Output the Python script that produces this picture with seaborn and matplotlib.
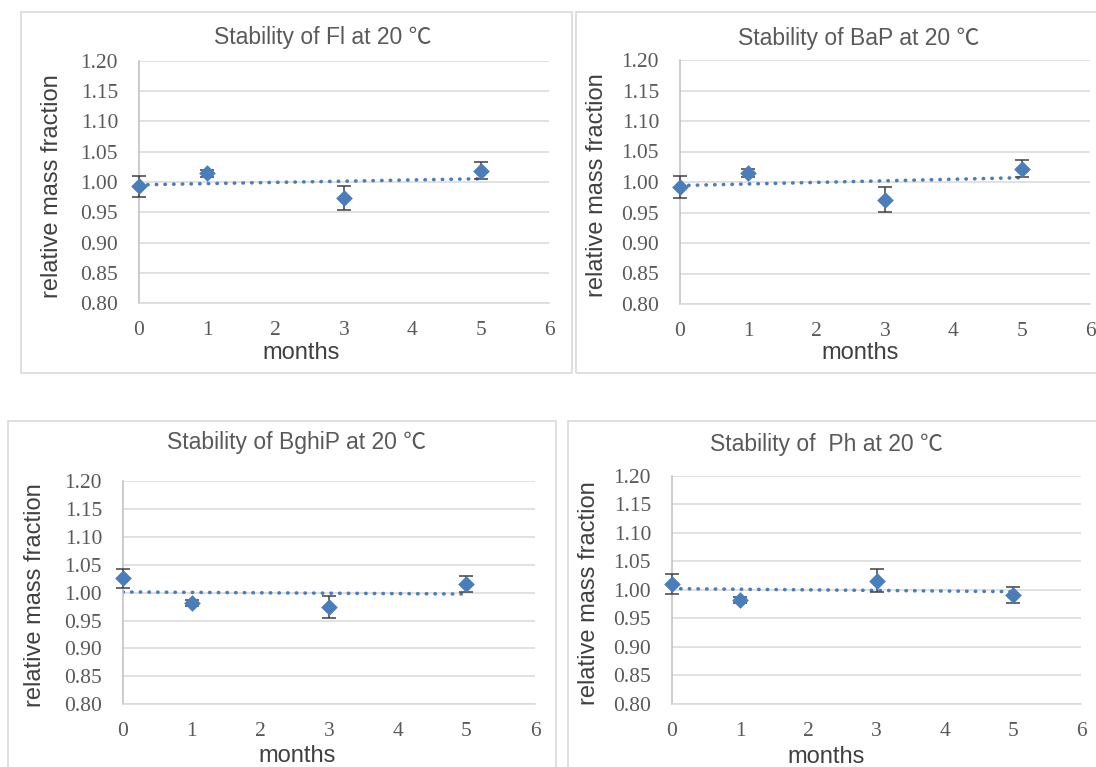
import matplotlib

matplotlib.use("Agg")
import matplotlib.pyplot as plt
import numpy as np
import seaborn as sns
from matplotlib.patches import Rectangle


MONTHS = [0, 1, 3, 5]

FL = [0.993, 1.0145, 0.973, 1.019]
FL_ERR = [0.017, 0.006, 0.020, 0.014]

BAP = [0.992, 1.015, 0.971, 1.022]
BAP_ERR = [0.0175, 0.007, 0.020, 0.014]

BGHIP = [1.026, 0.982, 0.975, 1.016]
BGHIP_ERR = [0.017, 0.005, 0.020, 0.014]

PH = [1.010, 0.982, 1.016, 0.990]
PH_ERR = [0.017, 0.005, 0.020, 0.014]

TITLES = [
    "Stability of Fl at 20 ℃",
    "Stability of BaP at 20 ℃",
    "Stability of BghiP at 20 ℃",
    "Stability of  Ph at 20 ℃",
]
X_TICKS = [0, 1, 2, 3, 4, 5, 6]
Y_TICKS = [0.80, 0.85, 0.90, 0.95, 1.00, 1.05, 1.10, 1.15, 1.20]

W, H = 1096, 767
BLUE = "#4A7EBB"
GRID = "#d9d9d9"
TEXT = "#595959"
SANS = ["Liberation Sans", "Noto Sans CJK SC", "DejaVu Sans"]
SERIF = ["Liberation Serif", "DejaVu Serif"]

# pixel layout: frame box, plot area, title / ylabel / xlabel centres
LAYOUT = [
    dict(box=(21, 572, 12, 373), area=(139, 549, 61, 303), title=(323, 38), ylab=(52, 186), xlab=(301, 353)),
    dict(box=(576, 1110, 12, 373), area=(680, 1090, 60, 304), title=(859, 38), ylab=(597, 185), xlab=(860, 353)),
    dict(box=(8, 556, 421, 780), area=(123, 535, 481.5, 704), title=(297, 443), ylab=(35, 595), xlab=(297, 756)),
    dict(box=(568, 1110, 421, 780), area=(672, 1081, 475.7, 703.7), title=(826, 445), ylab=(589, 593), xlab=(826, 757)),
]


def to_axes(area, pt):
    left, right, top, bottom = area
    return (pt[0] - left) / (right - left), (bottom - pt[1]) / (bottom - top)


def draw_panel(fig, lay, title, y, yerr):
    x0, x1, y0, y1 = lay["box"]
    fig.patches.append(
        Rectangle((x0 / W, 1 - y1 / H), (x1 - x0) / W, (y1 - y0) / H, transform=fig.transFigure,
                  facecolor="none", edgecolor=GRID, linewidth=1.2, zorder=0)
    )
    left, right, top, bottom = lay["area"]
    ax = fig.add_axes([left / W, 1 - bottom / H, (right - left) / W, (bottom - top) / H])

    ax.errorbar(MONTHS, y, yerr=yerr, fmt="none", ecolor="#404040", elinewidth=1.1,
                capsize=4.7, capthick=1.1, zorder=3, clip_on=False)
    sns.regplot(x=np.array(MONTHS), y=np.array(y), ax=ax, ci=None, marker="D",
                scatter_kws=dict(s=72, color=BLUE, alpha=1, linewidths=0, zorder=4, clip_on=False),
                line_kws=dict(color=BLUE, lw=2.6, linestyle=(0, (0.1, 2.3)),
                              dash_capstyle="round", zorder=2))

    ax.set_xlim(0, 6)
    ax.set_ylim(0.8, 1.2)
    ax.set_xticks(X_TICKS)
    ax.set_yticks(Y_TICKS)
    ax.set_yticklabels([f"{v:.2f}" for v in Y_TICKS])
    ax.grid(axis="y", color=GRID, linewidth=1.1)
    ax.grid(axis="x", visible=False)
    ax.set_axisbelow(True)
    for side in ("top", "right"):
        ax.spines[side].set_visible(False)
    ax.spines["bottom"].set_color(GRID)
    ax.spines["bottom"].set_linewidth(1.1)
    ax.spines["left"].set_color("#bfbfbf")
    ax.spines["left"].set_linewidth(1.1)
    ax.tick_params(axis="both", length=0, labelcolor=TEXT, labelsize=15.5)
    ax.tick_params(axis="y", pad=15)
    ax.tick_params(axis="x", pad=13)
    for lab in ax.get_xticklabels() + ax.get_yticklabels():
        lab.set_family(SERIF)

    ax.set_ylabel("relative mass fraction", fontsize=17, color="#404040", family=SANS, va="center")
    ax.yaxis.set_label_coords(*to_axes(lay["area"], lay["ylab"]))
    ax.set_xlabel("months", fontsize=17, color="#404040", family=SANS, va="center")
    ax.xaxis.set_label_coords(*to_axes(lay["area"], lay["xlab"]))
    tx, ty = to_axes(lay["area"], lay["title"])
    ax.set_title(title, fontsize=16.5, color=TEXT, family=SANS, y=ty, va="center", pad=0)
    ax.title.set_x(tx)
    return ax


def main():
    sns.set_theme(style="white")
    plt.rcParams["font.family"] = SANS

    fig = plt.figure(figsize=(W / 100, H / 100), dpi=100, facecolor="white")
    series = [(FL, FL_ERR), (BAP, BAP_ERR), (BGHIP, BGHIP_ERR), (PH, PH_ERR)]
    for lay, title, (y, yerr) in zip(LAYOUT, TITLES, series):
        draw_panel(fig, lay, title, y, yerr)

    fig.savefig("out.png", dpi=100, facecolor="white")
    plt.close(fig)


if __name__ == "__main__":
    main()
